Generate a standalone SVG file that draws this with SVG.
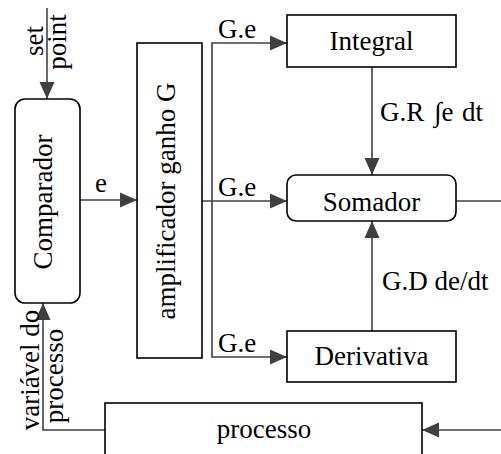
<svg xmlns="http://www.w3.org/2000/svg" width="501" height="454" viewBox="0 0 501 454">
  <style>
    .box { fill: #fff; stroke: #000; stroke-width: 1.6; }
    .lbl { font-family: 'Liberation Serif', 'Times New Roman', Times, 'DejaVu Serif', serif; font-size: 27px; fill: #000; }
    .mid { text-anchor: middle; }
    .wire { fill: none; stroke: #404040; stroke-width: 1.6; }
  </style>
  <defs>
    <marker id="arrow" markerUnits="userSpaceOnUse" markerWidth="18" markerHeight="16" refX="17" refY="8" orient="auto">
      <path d="M0,0.5 L17,8 L0,15.5 Z" fill="#404040"/>
    </marker>
  </defs>

  <g id="connectors">
    <!-- set point input -->
    <line class="wire" x1="47" y1="8" x2="47" y2="99" marker-end="url(#arrow)"/>
    <!-- error to amplifier -->
    <line class="wire" x1="80" y1="200" x2="137" y2="200" marker-end="url(#arrow)"/>
    <!-- amplifier output bus -->
    <line class="wire" x1="202" y1="201" x2="287" y2="201" marker-end="url(#arrow)"/>
    <polyline class="wire" points="287,43 212,43 212,357 287,357"/>
    <line class="wire" x1="270" y1="43" x2="287" y2="43" marker-end="url(#arrow)"/>
    <line class="wire" x1="270" y1="357" x2="287" y2="357" marker-end="url(#arrow)"/>
    <!-- integral and derivative into adder -->
    <line class="wire" x1="372" y1="67" x2="372" y2="175" marker-end="url(#arrow)"/>
    <line class="wire" x1="372" y1="331" x2="372" y2="221" marker-end="url(#arrow)"/>
    <!-- adder output -->
    <line class="wire" x1="456" y1="201" x2="501" y2="201"/>
    <!-- input to process -->
    <line class="wire" x1="501" y1="430" x2="422" y2="430" marker-end="url(#arrow)"/>
    <!-- process variable feedback -->
    <polyline class="wire" points="105,430 43,430 43,330"/>
    <line class="wire" x1="43" y1="330" x2="43" y2="303" marker-end="url(#arrow)"/>
  </g>

  <g id="comparador">
    <rect class="box" x="15" y="99" width="65" height="204" rx="10"/>
    <text class="lbl mid" transform="translate(52,202) rotate(-90)">Comparador</text>
  </g>

  <g id="amplificador">
    <rect class="box" x="137" y="43" width="65" height="315"/>
    <text class="lbl mid" transform="translate(175,201) rotate(-90)">amplificador ganho G</text>
  </g>

  <g id="integral">
    <rect class="box" x="287" y="15" width="169" height="52"/>
    <text class="lbl mid" x="371.5" y="50">Integral</text>
  </g>

  <g id="somador">
    <rect class="box" x="287" y="175" width="169" height="46" rx="9"/>
    <text class="lbl mid" x="371.5" y="211">Somador</text>
  </g>

  <g id="derivativa">
    <rect class="box" x="287" y="331" width="169" height="51"/>
    <text class="lbl mid" x="371.5" y="365">Derivativa</text>
  </g>

  <g id="processo">
    <rect class="box" x="105" y="403" width="317" height="52"/>
    <text class="lbl mid" x="264" y="438">processo</text>
  </g>

  <g id="labels">
    <text class="lbl mid" transform="translate(43,41) rotate(-90)">set</text>
    <text class="lbl mid" transform="translate(66,42) rotate(-90)">point</text>
    <text class="lbl mid" x="101" y="192">e</text>
    <text class="lbl" x="218" y="38">G.e</text>
    <text class="lbl" x="218" y="196">G.e</text>
    <text class="lbl" x="218" y="352">G.e</text>
    <text class="lbl" x="380" y="121">G.R <tspan x="434">∫e</tspan> <tspan x="462">dt</tspan></text>
    <text class="lbl" x="382" y="290">G.D de/dt</text>
    <text class="lbl mid" transform="translate(39,370) rotate(-90)">variável do</text>
    <text class="lbl mid" transform="translate(63,376) rotate(-90)">processo</text>
  </g>
</svg>
